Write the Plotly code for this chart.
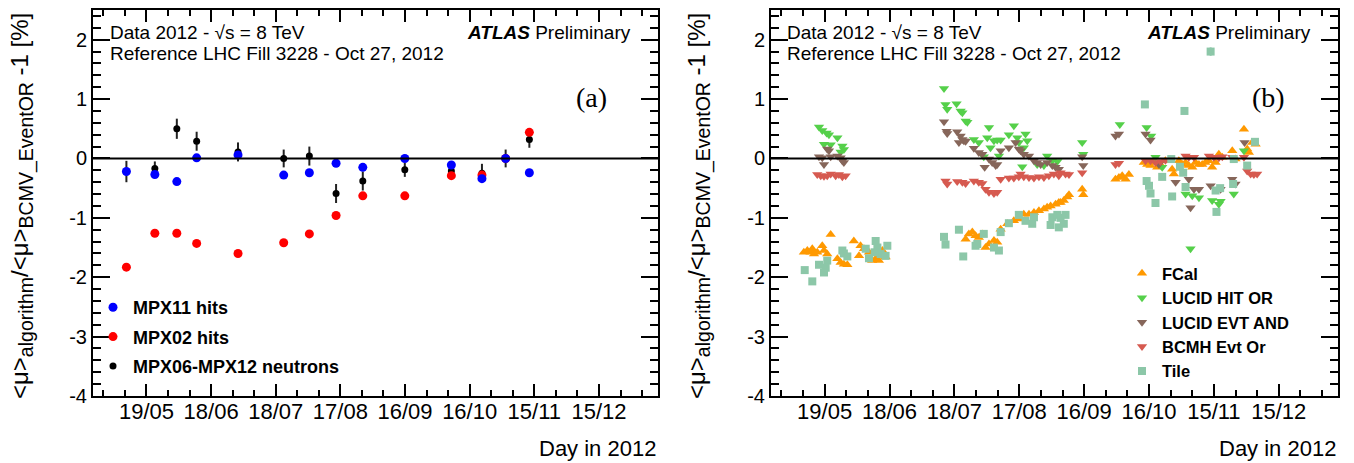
import plotly.graph_objects as go

W, H = 1354, 463

# ---------------- data: panel (a) ----------------
a_days = [130.7, 143.9, 154.1, 163.3, 182.5, 203.7, 215.6, 228.0, 240.4, 259.9, 281.5, 295.7, 306.7, 317.7]
mpx11 = [-0.22, -0.27, -0.39, 0.01, 0.06, -0.28, -0.24, -0.08, -0.15, 0.00, -0.11, -0.34, 0.00, -0.24]
mpx02 = [-1.83, -1.26, -1.26, -1.43, -1.60, -1.42, -1.27, -0.96, -0.63, -0.63, -0.29, -0.28, 0.00, 0.44]
mpx06 = [-0.22, -0.17, 0.50, 0.29, 0.11, 0.00, 0.04, -0.59, -0.38, -0.19, -0.21, -0.25, 0.00, 0.32]
mpx06_err = [0.18, 0.12, 0.17, 0.16, 0.16, 0.15, 0.16, 0.16, 0.16, 0.12, 0.10, 0.16, 0.15, 0.14]

# ---------------- data: panel (b) ----------------
fcal_days = [130.4, 132.0, 133.5, 134.3, 135.1, 136.6, 138.9, 139.7, 141.2, 142.8, 145.9, 147.4, 148.9, 150.5,
             153.5, 155.9, 156.6, 158.2, 160.5, 162.0, 163.6, 165.1, 166.7, 168.2,
             205.2, 206.7, 208.3, 209.8, 211.3, 212.9, 214.4, 216.0, 218.3, 219.8, 221.4, 224.5, 227.5, 229.8,
             232.1, 234.5, 236.8, 239.1, 241.4, 242.9, 244.5, 246.8, 248.3, 249.1, 250.6, 252.2, 253.0,
             259.1, 259.6,
             274.5, 276.1, 277.6, 279.2, 280.7,
             287.6, 289.2, 290.7, 292.2, 293.8, 295.3, 297.6, 300.7, 301.5, 303.8, 305.4, 306.9, 308.4, 310.0,
             311.5, 313.1, 314.6, 316.1, 317.7, 319.2, 320.8, 322.3, 323.9, 328.5, 330.0, 333.9, 335.4, 336.2,
             337.7, 339.3]
fcal = [-1.58, -1.55, -1.58, -1.52, -1.61, -1.58, -1.47, -1.55, -1.61, -1.28, -1.69, -1.75, -1.78, -1.79,
        -1.39, -1.64, -1.47, -1.52, -1.58, -1.72, -1.69, -1.72, -1.55, -1.66,
        -1.36, -1.27, -1.24, -1.30, -1.33, -1.27, -1.50, -1.44, -1.38, -1.41, -1.19, -1.10, -1.05, -1.02,
        -0.94, -0.94, -0.91, -0.88, -0.85, -0.82, -0.80, -0.77, -0.74, -0.74, -0.71, -0.65, -0.61,
        -0.52, -0.61,
        -0.35, -0.32, -0.29, -0.35, -0.27,
        -0.07, -0.10, -0.12, -0.07, -0.15, -0.10, -0.04, -0.18, -0.26, -0.04, -0.10, -0.07, -0.12, -0.15,
        -0.07, -0.10, -0.10, -0.07, -0.04, -0.15, -0.07, 0.07, 0.02, 0.13, -0.01, 0.49, 0.16, 0.10,
        0.27, 0.24]

lhit_days = [137.4, 138.9, 140.9, 142.0, 139.7, 142.8, 145.9, 148.2, 148.9, 147.4,
             195.2, 195.9, 196.7, 201.0, 202.9, 203.7, 205.2, 206.0, 209.0, 211.3, 216.0, 215.2, 216.7, 218.3,
             219.8, 221.4, 225.2, 227.5, 229.1, 229.8, 232.9, 233.7, 232.1, 231.4, 242.9, 238.3, 241.4, 245.3,
             247.6, 213.6, 220.6,
             259.1, 259.6, 276.5,
             288.9, 291.0, 293.0, 296.1, 306.9, 310.0, 313.1, 319.2, 322.3, 323.1, 329.2, 333.9, 309.2]
lhit = [0.53, 0.47, 0.43, 0.40, 0.24, 0.23, 0.35, 0.21, 0.15, 0.11,
        1.18, 0.91, 0.83, 0.92, 0.80, 0.77, 0.63, 0.61, 0.32, 0.27, 0.52, 0.35, 0.18, 0.30,
        0.31, 0.31, 0.40, 0.55, 0.35, 0.27, 0.41, 0.30, 0.18, -0.14, 0.04, -0.10, -0.12, -0.04,
        -0.05, 0.03, 0.04,
        0.27, 0.07, 0.57,
        0.52, 0.38, 0.02, -0.15, -0.60, -0.63, -0.66, -0.71, -0.77, -0.72, -0.60, 0.13, -1.52]

levt_days = [137.4, 138.9, 139.7, 141.2, 142.0, 142.8, 145.9, 147.4, 148.2, 148.9,
             195.2, 196.4, 196.7, 201.3, 202.9, 203.7, 204.4, 205.2, 202.1, 209.0, 211.3, 212.9, 214.0, 216.0,
             217.5, 219.1, 219.8, 221.4, 225.2, 228.3, 229.8, 230.6, 232.1, 234.5, 236.8, 238.3, 239.9, 242.9,
             245.3, 246.8, 248.3,
             259.1, 259.6, 274.5, 276.1,
             288.4, 290.7, 294.6, 302.3, 308.4, 309.2, 310.8, 313.1, 318.5, 323.1, 328.5, 330.0, 334.2]
levt = [0.03, 0.01, -0.10, 0.16, 0.13, 0.03, 0.04, 0.01, -0.04, -0.07,
        0.62, 0.46, 0.42, 0.45, 0.38, 0.32, 0.30, 0.29, 0.27, 0.17, 0.10, 0.07, -0.15, -0.01,
        -0.07, -0.12, -0.10, 0.13, 0.18, 0.27, 0.16, 0.13, 0.07, 0.04, -0.04, -0.07, -0.10, -0.07,
        -0.12, -0.15, -0.18,
        0.03, -0.12, 0.38, 0.41,
        0.41, 0.31, -0.10, -0.40, -0.35, -0.83, -0.52, -0.52, -0.46, -0.52, -0.35, -0.43, 0.27]

bcmh_days = [136.6, 138.2, 139.7, 141.2, 142.8, 145.1, 146.6, 148.2, 149.7,
             195.9, 196.7, 201.3, 203.7, 205.2, 209.0, 211.3, 212.9, 214.4, 216.0, 218.3, 219.8, 221.4, 225.2,
             227.5, 229.8, 230.6, 232.1, 234.5, 236.8, 239.1, 241.4, 243.7, 246.0, 248.3,
             249.1, 251.4, 253.0, 259.1, 274.5, 276.1,
             288.4, 290.7, 293.0, 295.3, 297.6, 306.9, 308.4, 310.8, 317.7, 320.0, 322.3, 323.9, 328.5, 333.9,
             335.4, 337.0, 338.5, 340.0]
bcmh = [-0.27, -0.29, -0.30, -0.29, -0.26, -0.29, -0.27, -0.31, -0.29,
        -0.38, -0.43, -0.39, -0.40, -0.42, -0.38, -0.40, -0.42, -0.52, -0.57, -0.59, -0.57, -0.35, -0.33,
        -0.33, -0.31, -0.26, -0.31, -0.32, -0.33, -0.31, -0.32, -0.29, -0.26, -0.29,
        -0.24, -0.26, -0.27, -0.24, -0.10, -0.08,
        -0.04, -0.04, -0.07, -0.05, -0.03, 0.04, 0.02, 0.02, 0.04, 0.02, 0.01, 0.03, 0.02, 0.02,
        -0.21, -0.26, -0.27, -0.26]

tile_days = [130.8, 134.3, 137.4, 139.7, 141.2, 140.5, 148.2, 148.9, 150.5, 159.0, 160.5, 163.6, 164.4,
             165.9, 168.2, 169.0, 163.1,
             195.2, 195.9, 202.1, 204.1, 209.8, 213.6, 210.6, 218.3, 220.6, 221.4, 225.2, 229.8, 232.9,
             236.0, 236.8, 244.5, 245.3, 248.3, 247.6, 249.1, 250.6, 251.4,
             288.1, 288.9, 290.0, 290.7, 293.0, 296.1, 300.7, 304.3, 306.4, 305.8, 306.9, 318.5, 320.8,
             321.2, 322.9, 328.9, 329.2, 335.4, 339.0, 300.3]
tile = [-1.88, -2.07, -1.79, -1.92, -1.72, -1.84, -1.55, -1.60, -1.65, -1.52, -1.68, -1.39, -1.50,
        -1.61, -1.64, -1.47, -1.58,
        -1.32, -1.45, -1.20, -1.65, -1.47, -1.27, -1.44, -1.50, -1.55, -1.24, -1.09, -0.95, -1.05,
        -1.10, -0.99, -1.12, -0.99, -1.16, -0.95, -1.00, -1.10, -0.95,
        0.91, -0.38, -0.46, -0.59, -0.75, -0.31, -0.64, -0.14, 0.80, -0.24, -0.48, 1.80, -0.54,
        -0.90, -0.50, -0.43, -0.01, -0.12, 0.28, -0.01]
tile_err = [0.0] * len(tile)
tile_err[tile.index(1.80)] = 0.07

tick_days = [140, 170, 200, 230, 260, 290, 320, 350]
tick_labels = ["19/05", "18/06", "18/07", "17/08", "16/09", "16/10", "15/11", "15/12"]
y_ticks = [-4, -3, -2, -1, 0, 1, 2]
y_labels = ["-4", "-3", "-2", "-1", "0", "1", "2"]

# ---------------- layout helpers ----------------
def px_x(p):
    return p / W


def px_y(p):
    return 1 - p / H


FONT = "Liberation Sans, Arial, Helvetica, sans-serif"
x_range = [115.2, 377.4]
y_range = [-4, 2.5]


def make_x(domain, anchor):
    return dict(domain=domain, anchor=anchor, range=x_range, tickmode="array",
                tickvals=tick_days, ticktext=tick_labels, ticks="inside", ticklen=12,
                tickwidth=1.5, tickcolor="black", showline=True, linecolor="black",
                linewidth=2, mirror="ticks", showgrid=False, zeroline=False, automargin=False,
                ticklabelstandoff=-5,
                tickfont=dict(family=FONT, size=22, color="black"),
                minor=dict(ticks="inside", ticklen=6, tickwidth=1.5, tickcolor="black",
                           tickmode="linear", tick0=0, dtick=10, showgrid=False))


def make_y(domain, anchor):
    return dict(domain=domain, anchor=anchor, range=y_range, tickmode="array",
                tickvals=y_ticks, ticktext=y_labels, ticks="inside", ticklen=17,
                tickwidth=1.5, tickcolor="black", showline=True, linecolor="black",
                linewidth=2, mirror="ticks", showgrid=False, zeroline=False, automargin=False,
                tickfont=dict(family=FONT, size=20, color="black"),
                minor=dict(ticks="inside", ticklen=8, tickwidth=1.5, tickcolor="black",
                           tickmode="linear", tick0=0, dtick=0.2, showgrid=False))


fig = go.Figure()

# panel (a) traces (draw black, red, blue; legend lists blue, red, black)
fig.add_trace(go.Scatter(x=a_days, y=mpx06, mode="markers", name="MPX06-MPX12 neutrons",
                         marker=dict(color="black", size=7),
                         error_y=dict(type="data", array=mpx06_err, color="#222222", thickness=2, width=0),
                         xaxis="x", yaxis="y", legend="legend", legendgroup="c", legendrank=3))
fig.add_trace(go.Scatter(x=a_days, y=mpx02, mode="markers", name="MPX02 hits",
                         marker=dict(color="#ff0000", size=9),
                         xaxis="x", yaxis="y", legend="legend", legendgroup="b", legendrank=2))
fig.add_trace(go.Scatter(x=a_days, y=mpx11, mode="markers", name="MPX11 hits",
                         marker=dict(color="#0000ff", size=9),
                         xaxis="x", yaxis="y", legend="legend", legendgroup="a", legendrank=1))

# panel (b) traces
b_series = [
    ("FCal", fcal_days, fcal, "#ff9900", "triangle-up", 9, None),
    ("LUCID HIT OR", lhit_days, lhit, "#55d04a", "triangle-down", 9, None),
    ("LUCID EVT AND", levt_days, levt, "#86665a", "triangle-down", 9, None),
    ("BCMH Evt Or", bcmh_days, bcmh, "#d65a50", "triangle-down", 9, None),
    ("Tile", tile_days, tile, "#8cc7a8", "square", 8, tile_err),
]
for i, (nm, xs, ys, col, sym, sz, err) in enumerate(b_series):
    kw = {}
    if err is not None:
        kw["error_y"] = dict(type="data", array=err, color=col, thickness=2, width=0)
    fig.add_trace(go.Scatter(x=xs, y=ys, mode="markers", name=nm,
                             marker=dict(color=col, size=sz, symbol=sym, line=dict(width=0)),
                             xaxis="x2", yaxis="y2", legend="legend2", legendgroup="g%d" % i,
                             legendrank=i + 1, **kw))

ydom = [px_y(396), px_y(10)]
fig.update_layout(
    template="none",
    width=W, height=H, margin=dict(l=0, r=0, t=0, b=0, pad=0, autoexpand=False),
    paper_bgcolor="white", plot_bgcolor="white",
    xaxis=make_x([px_x(93), px_x(658)], "y"),
    yaxis=make_y(ydom, "x"),
    xaxis2=make_x([px_x(771), px_x(1338)], "y2"),
    yaxis2=make_y(ydom, "x2"),
    legend=dict(x=px_x(93), y=px_y(289), xanchor="left", yanchor="top",
                traceorder="grouped", tracegroupgap=3, borderwidth=0,
                font=dict(family=FONT, size=18, color="black", weight="bold"),
                bgcolor="rgba(0,0,0,0)"),
    legend2=dict(x=px_x(1122), y=px_y(256), xanchor="left", yanchor="top",
                 traceorder="grouped", tracegroupgap=0, borderwidth=0,
                 font=dict(family=FONT, size=16.5, color="black", weight="bold"),
                 bgcolor="rgba(0,0,0,0)"),
    showlegend=True,
)

# zero lines
for xr, yr in [("x domain", "y"), ("x2 domain", "y2")]:
    fig.add_shape(type="line", xref=xr, yref=yr, x0=0, x1=1, y0=0, y1=0,
                  line=dict(color="black", width=2))

ytitle = ("<μ><sub><span style='font-size:19.5px'>algorithm</span></sub>/<μ>"
          "<sub><span style='font-size:19.5px'>BCMV_EventOR</span></sub> -1 [%]")
ann = []
for (x_left, x_right, x_title, tag, tag_x) in [(108, 658, 22, "(a)", 591), (785, 1338, 699, "(b)", 1268)]:
    ann.append(dict(x=px_x(x_left), y=px_y(33), xref="paper", yref="paper", xanchor="left",
                    yanchor="middle", showarrow=False, text="Data 2012 - √s = 8 TeV",
                    font=dict(family=FONT, size=19, color="black")))
    ann.append(dict(x=px_x(x_left), y=px_y(53), xref="paper", yref="paper", xanchor="left",
                    yanchor="middle", showarrow=False, text="Reference LHC Fill 3228 - Oct 27, 2012",
                    font=dict(family=FONT, size=19, color="black")))
    ann.append(dict(x=px_x(x_right - 25), y=px_y(33), xref="paper", yref="paper", xanchor="right",
                    yanchor="middle", showarrow=False,
                    text="<b><i>ATLAS</i></b> Preliminary",
                    font=dict(family=FONT, size=19, color="black")))
    ann.append(dict(x=px_x(tag_x), y=px_y(97), xref="paper", yref="paper", xanchor="center",
                    yanchor="middle", showarrow=False, text=tag,
                    font=dict(family="Liberation Serif, Times New Roman, serif", size=28, color="black")))
    ann.append(dict(x=px_x(x_right), y=px_y(448), xref="paper", yref="paper", xanchor="right",
                    yanchor="middle", showarrow=False, text="Day in 2012",
                    font=dict(family=FONT, size=22, color="black")))
    ann.append(dict(x=px_x(x_title), y=px_y(206), xref="paper", yref="paper", xanchor="center",
                    yanchor="middle", showarrow=False, text=ytitle, textangle=-90,
                    font=dict(family=FONT, size=24, color="black")))
fig.update_layout(annotations=ann)

fig.write_html("out.html")
